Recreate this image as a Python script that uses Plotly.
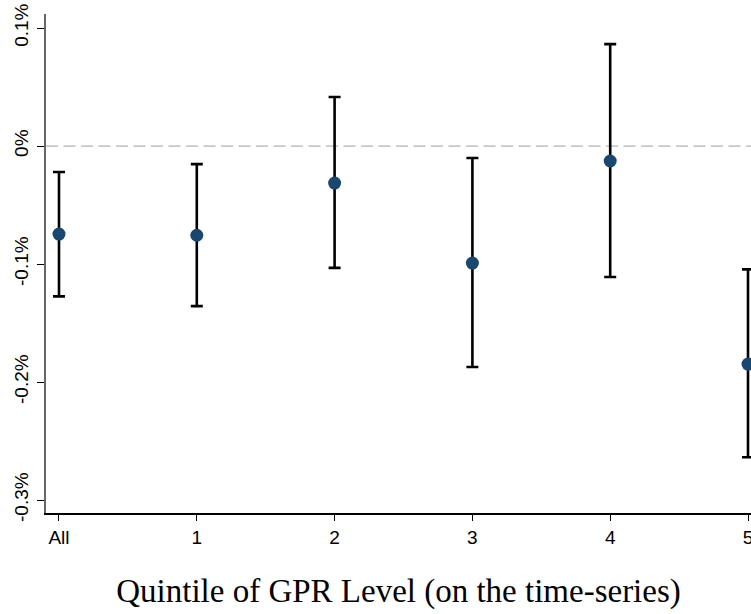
import plotly.graph_objects as go

categories = ["All", "1", "2", "3", "4", "5"]
estimates = [-0.0746, -0.0756, -0.0314, -0.0992, -0.0127, -0.1848]
ci_upper = [-0.0220, -0.0153, 0.0415, -0.0102, 0.0864, -0.1045]
ci_lower = [-0.1274, -0.1357, -0.1033, -0.1873, -0.1110, -0.2638]

y_tickvals = [0.1, 0.0, -0.1, -0.2, -0.3]
y_ticktext = ["0.1%", "0%", "-0.1%", "-0.2%", "-0.3%"]

xpos = list(range(len(categories)))
err_plus = [u - e for u, e in zip(ci_upper, estimates)]
err_minus = [e - l for e, l in zip(estimates, ci_lower)]

fig = go.Figure()
fig.add_trace(go.Scatter(
    x=xpos, y=estimates, mode="markers",
    marker=dict(color="#1a476f", size=13),
    error_y=dict(type="data", symmetric=False, array=err_plus, arrayminus=err_minus,
                 color="black", thickness=2.6, width=6),
    showlegend=False, cliponaxis=False,
))
fig.add_shape(type="line", xref="paper", x0=0, x1=1, yref="y", y0=0, y1=0,
              line=dict(color="#c8c8c8", width=1.8, dash="12px,5.5px"), layer="below")

tick_font = dict(family="Liberation Sans, Arial, sans-serif", size=19, color="black")

fig.update_layout(
    width=751, height=614,
    margin=dict(l=46, r=0, t=14, b=101),
    plot_bgcolor="white", paper_bgcolor="white",
    font=tick_font,
)
fig.update_xaxes(
    range=[-0.0943, 5.0218], tickvals=xpos, ticktext=categories, tickfont=tick_font,
    automargin=False, ticklabeloverflow="allow",
    showgrid=False, zeroline=False, showline=True, linecolor="black", linewidth=1.5,
    ticks="outside", ticklen=6, tickcolor="black", tickwidth=1,
    title=dict(text="Quintile of GPR Level (on the time-series)",
               font=dict(family="Liberation Serif, DejaVu Serif, serif", size=33),
               standoff=32),
)
fig.update_yaxes(
    range=[-0.311, 0.1119], tickvals=y_tickvals, ticktext=y_ticktext, tickangle=-90,
    tickfont=tick_font, ticklabelstandoff=2,
    automargin=False, ticklabeloverflow="allow",
    showgrid=False, zeroline=False, showline=True, linecolor="#666666", linewidth=1.5,
    ticks="outside", ticklen=7, tickcolor="black", tickwidth=1,
)

fig.write_html("out.html", config={"displayModeBar": False},
               post_script="document.body.style.margin='0';document.body.style.overflow='hidden';")
